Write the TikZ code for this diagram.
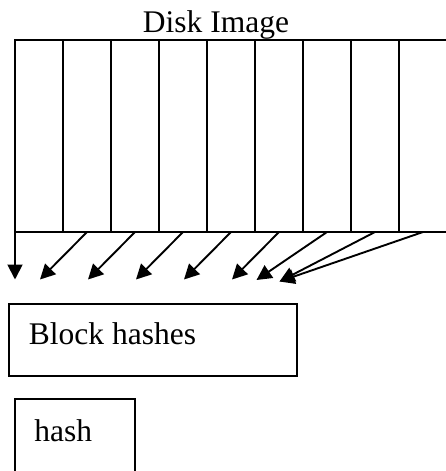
\documentclass[tikz,border=0pt]{standalone}
\usepackage{fontspec}
\setmainfont{Liberation Serif}
\usetikzlibrary{arrows.meta}
\begin{document}
\begin{tikzpicture}[x=1pt,y=-1pt,
  line/.style={line width=1.9pt},
  hasharrow/.style={line width=1.9pt,-{Triangle[length=15pt,width=15pt]}},
  lbl/.style={anchor=base,inner sep=0pt,font=\fontsize{31.5}{36}\selectfont},
  boxnode/.style={draw,line width=1.9pt,inner sep=0pt,anchor=north west}]
\useasboundingbox (0,0) rectangle (445,471);
% disk image
\node[lbl] (title) at (216,32) {Disk Image};
\draw[line] (460,40) -- (15,40) -- (15,232) -- (460,232);
\foreach \x in {63,111,159,207,255,303,351,399}{
  \draw[line] (\x,40) -- (\x,232);
}
% arrow start and end points
\foreach \i/\sx in {0/15,1/87,2/135,3/183,4/231,5/279,6/327,7/375,8/423}{
  \coordinate (s\i) at (\sx,232);
}
\coordinate (e0) at (15,279.5);
\coordinate (e1) at (40,279.5);
\coordinate (e2) at (88,279.5);
\coordinate (e3) at (136,279.5);
\coordinate (e4) at (184,279.5);
\coordinate (e5) at (232,279.5);
\coordinate (e6) at (256.5,280);
\coordinate (e7) at (279.5,281.5);
\coordinate (e8) at (279.5,281.5);
\foreach \i in {0,...,8}{
  \draw[hasharrow] (s\i) -- (e\i);
}
% block hashes
\node[boxnode,minimum width=288pt,minimum height=72pt] (bh) at (8,303) {};
\node[lbl] (bhtext) at (112.5,344) {Block hashes};
% hash
\coordinate (hbl) at (15,480);
\coordinate (hbr) at (135,480);
\node[inner sep=0pt] (htl) at (15,399) {};
\node[inner sep=0pt] (htr) at (135,399) {};
\draw[line] (hbl) -- (htl.center) -- (htr.center) -- (hbr);
\node[lbl] (htext) at (63.3,441) {hash};
\end{tikzpicture}
\end{document}
